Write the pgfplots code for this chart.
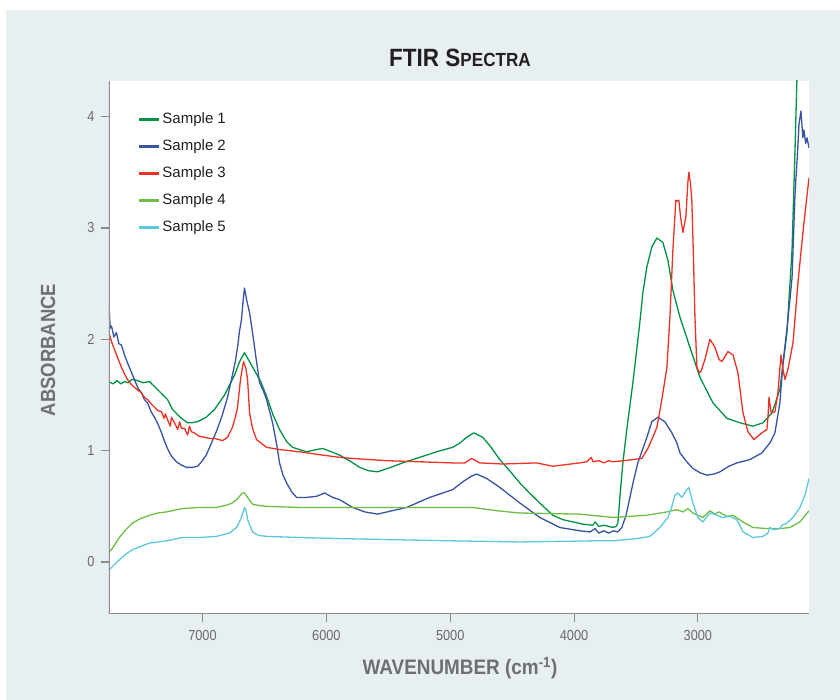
\documentclass[border=0pt]{standalone}
\usepackage{pgfplots}
\pgfplotsset{compat=1.18}
\usepackage{fontspec}
\setmainfont{Liberation Sans}
\newfontfamily\condfont[FakeStretch=0.88]{Liberation Sans}
\newfontfamily\labfont[FakeStretch=0.9]{Liberation Sans}
\definecolor{bg}{RGB}{232,239,242}
\definecolor{axgray}{RGB}{140,140,140}
\definecolor{tickgray}{RGB}{105,105,108}
\definecolor{labgray}{RGB}{110,111,113}
\definecolor{titlec}{RGB}{35,31,32}
\definecolor{sA}{RGB}{0,146,69}
\definecolor{sB}{RGB}{57,83,164}
\definecolor{sC}{RGB}{237,50,36}
\definecolor{sD}{RGB}{109,190,69}
\definecolor{sE}{RGB}{92,200,222}
\begin{document}
\begin{tikzpicture}[x=1pt,y=1pt]
\path[use as bounding box] (0,0) rectangle (840,700);
\fill[white] (0,0) rectangle (840,700);
\fill[bg] (6,0) rectangle (840,690);
\begin{axis}[
  at={(109pt,86pt)}, anchor=south west,
  scale only axis, width=700pt, height=533pt,
  x dir=reverse,
  xmin=2103, xmax=7755, ymin=-0.467, ymax=4.32,
  axis background/.style={fill=white},
  axis line style={draw=none},
  xtick={3000,4000,5000,6000,7000},
  ytick={0,1,2,3,4},
  xtick pos=bottom, ytick pos=left,
  tick align=outside,
  major tick length=8pt,
  tick style={draw=axgray, line width=1.1pt},
  /pgf/number format/assume math mode=true,
  /pgf/number format/1000 sep={},
  ticklabel style={font=\condfont\fontsize{14.5}{14.5}\selectfont, text=tickgray},
  xticklabel style={yshift=-5pt},
  yticklabel style={xshift=-3pt},
  legend cell align=left,
  legend style={draw=none, fill=none, at={(axis description cs:0.037,0.949)}, anchor=north west,
    font=\fontsize{15}{15}\selectfont, text=titlec, row sep=9pt,
    nodes={text height=11pt, text depth=3pt, inner sep=2pt},
    /tikz/every even column/.append style={column sep=3pt}},
  legend image code/.code={\draw[#1, line width=2.4pt] (0pt,0pt) -- (20pt,0pt);},
  every axis plot/.append style={line width=1.3pt, line join=round},
]
\addplot[sA] coordinates {
(7755,1.62)(7720,1.60)(7690,1.63)(7660,1.60)(7630,1.62)(7600,1.61)(7570,1.64)(7525,1.63)(7480,1.61)(7428,1.62)(7364,1.55)(7320,1.50)(7283,1.46)(7242,1.37)(7170,1.29)(7120,1.25)(7089,1.25)(7040,1.26)(6970,1.30)(6903,1.37)(6822,1.50)(6741,1.68)(6700,1.80)(6661,1.88)(6620,1.80)(6580,1.72)(6530,1.62)(6483,1.49)(6430,1.32)(6378,1.19)(6320,1.08)(6273,1.03)(6160,0.99)(6080,1.01)(6030,1.02)(5960,0.99)(5893,0.96)(5800,0.90)(5731,0.85)(5660,0.82)(5586,0.81)(5480,0.85)(5384,0.89)(5246,0.94)(5109,0.99)(4980,1.03)(4920,1.07)(4867,1.12)(4810,1.16)(4737,1.12)(4670,1.03)(4600,0.92)(4520,0.82)(4438,0.71)(4360,0.62)(4277,0.53)(4220,0.47)(4172,0.42)(4090,0.38)(4010,0.36)(3930,0.34)(3848,0.33)(3830,0.36)(3800,0.32)(3760,0.33)(3720,0.32)(3687,0.31)(3660,0.32)(3646,0.35)(3630,0.58)(3606,0.89)(3574,1.19)(3525,1.61)(3469,2.15)(3444,2.42)(3412,2.65)(3372,2.83)(3331,2.91)(3283,2.87)(3242,2.71)(3202,2.44)(3145,2.20)(3065,1.93)(2984,1.66)(2879,1.43)(2766,1.29)(2660,1.25)(2556,1.22)(2475,1.25)(2402,1.34)(2338,1.55)(2281,2.06)(2240,2.80)(2216,3.70)(2200,4.35)(2195,4.5)
};
\addlegendentry{Sample 1}
\addplot[sB] coordinates {
(7755,2.30)(7745,2.10)(7735,2.12)(7715,2.02)(7695,2.06)(7675,1.96)(7655,1.95)(7630,1.86)(7606,1.79)(7580,1.72)(7550,1.64)(7520,1.56)(7493,1.52)(7470,1.46)(7444,1.43)(7415,1.35)(7388,1.30)(7360,1.24)(7331,1.16)(7305,1.08)(7283,1.02)(7250,0.95)(7210,0.90)(7170,0.87)(7129,0.85)(7081,0.85)(7040,0.86)(7008,0.90)(6970,0.96)(6927,1.07)(6885,1.18)(6846,1.30)(6800,1.47)(6766,1.64)(6735,1.80)(6717,1.93)(6700,2.08)(6685,2.18)(6672,2.35)(6661,2.46)(6645,2.36)(6620,2.24)(6596,2.06)(6570,1.85)(6539,1.61)(6510,1.54)(6483,1.46)(6434,1.25)(6400,1.05)(6378,0.89)(6350,0.78)(6321,0.71)(6280,0.63)(6240,0.58)(6160,0.58)(6079,0.59)(6014,0.62)(5949,0.58)(5893,0.56)(5788,0.49)(5690,0.45)(5586,0.43)(5470,0.46)(5352,0.49)(5166,0.58)(4980,0.65)(4899,0.72)(4830,0.77)(4786,0.79)(4705,0.75)(4600,0.67)(4438,0.53)(4277,0.40)(4115,0.31)(3953,0.28)(3870,0.27)(3830,0.30)(3800,0.26)(3760,0.28)(3720,0.26)(3680,0.28)(3646,0.27)(3614,0.31)(3580,0.42)(3549,0.58)(3520,0.73)(3485,0.89)(3412,1.12)(3372,1.26)(3323,1.30)(3267,1.26)(3210,1.16)(3170,1.07)(3145,0.98)(3090,0.90)(3040,0.84)(2980,0.80)(2927,0.78)(2870,0.79)(2822,0.81)(2750,0.86)(2685,0.89)(2580,0.92)(2483,0.98)(2418,1.07)(2378,1.16)(2338,1.43)(2313,1.79)(2281,2.09)(2240,2.55)(2216,3.30)(2192,3.75)(2184,3.93)(2168,4.05)(2152,3.81)(2144,3.88)(2130,3.76)(2119,3.81)(2103,3.72)
};
\addlegendentry{Sample 2}
\addplot[sC] coordinates {
(7755,2.06)(7735,1.98)(7711,1.91)(7680,1.82)(7655,1.75)(7630,1.69)(7606,1.64)(7580,1.60)(7550,1.57)(7520,1.54)(7493,1.52)(7470,1.48)(7444,1.46)(7415,1.42)(7388,1.39)(7360,1.36)(7331,1.35)(7310,1.29)(7300,1.33)(7283,1.28)(7260,1.22)(7250,1.30)(7226,1.25)(7200,1.19)(7185,1.26)(7170,1.20)(7145,1.20)(7120,1.14)(7105,1.22)(7090,1.17)(7065,1.16)(7030,1.13)(6984,1.12)(6940,1.11)(6903,1.11)(6870,1.10)(6838,1.09)(6798,1.12)(6758,1.21)(6735,1.30)(6717,1.39)(6693,1.64)(6669,1.80)(6650,1.74)(6636,1.64)(6620,1.34)(6596,1.20)(6564,1.10)(6483,1.03)(6378,1.01)(6216,0.99)(6030,0.96)(5893,0.94)(5788,0.93)(5513,0.91)(5246,0.90)(4980,0.89)(4883,0.89)(4826,0.93)(4762,0.89)(4576,0.88)(4301,0.89)(4172,0.86)(3953,0.89)(3897,0.90)(3860,0.94)(3848,0.90)(3800,0.91)(3760,0.89)(3720,0.91)(3687,0.90)(3600,0.91)(3525,0.92)(3453,0.93)(3404,1.02)(3364,1.12)(3331,1.21)(3291,1.46)(3250,1.75)(3226,2.20)(3202,2.80)(3178,3.25)(3170,3.24)(3154,3.25)(3140,3.10)(3121,2.96)(3097,3.10)(3081,3.41)(3073,3.50)(3060,3.40)(3049,3.25)(3035,2.70)(3024,2.20)(3008,1.75)(2990,1.70)(2976,1.71)(2943,1.82)(2903,2.00)(2863,1.93)(2830,1.82)(2806,1.80)(2758,1.89)(2717,1.86)(2677,1.70)(2636,1.34)(2596,1.17)(2548,1.10)(2483,1.16)(2443,1.19)(2434,1.30)(2426,1.48)(2410,1.35)(2402,1.34)(2378,1.35)(2354,1.52)(2329,1.86)(2313,1.73)(2297,1.64)(2273,1.73)(2232,1.97)(2192,2.51)(2152,2.96)(2103,3.45)
};
\addlegendentry{Sample 3}
\addplot[sD] coordinates {
(7755,0.09)(7735,0.11)(7700,0.17)(7671,0.22)(7620,0.29)(7566,0.35)(7500,0.39)(7428,0.42)(7360,0.44)(7291,0.45)(7162,0.48)(7024,0.49)(6887,0.49)(6806,0.51)(6760,0.53)(6725,0.56)(6677,0.62)(6660,0.62)(6636,0.58)(6596,0.52)(6560,0.51)(6483,0.50)(6216,0.49)(5893,0.49)(5246,0.49)(4818,0.49)(4620,0.46)(4438,0.44)(3953,0.43)(3687,0.40)(3412,0.42)(3250,0.45)(3170,0.47)(3121,0.45)(3081,0.48)(3040,0.44)(2960,0.40)(2903,0.46)(2863,0.43)(2830,0.45)(2766,0.41)(2717,0.42)(2636,0.36)(2556,0.31)(2443,0.30)(2338,0.30)(2257,0.31)(2176,0.36)(2103,0.46)
};
\addlegendentry{Sample 4}
\addplot[sE] coordinates {
(7755,-0.07)(7735,-0.05)(7700,-0.01)(7671,0.02)(7620,0.07)(7566,0.11)(7500,0.14)(7428,0.17)(7360,0.18)(7291,0.19)(7162,0.22)(7024,0.22)(6887,0.23)(6782,0.26)(6725,0.31)(6685,0.40)(6661,0.49)(6648,0.46)(6636,0.38)(6596,0.27)(6550,0.24)(6483,0.23)(6216,0.22)(5893,0.21)(4980,0.19)(4438,0.18)(3848,0.19)(3687,0.19)(3493,0.21)(3388,0.23)(3307,0.31)(3242,0.40)(3210,0.50)(3186,0.60)(3162,0.62)(3129,0.58)(3089,0.65)(3073,0.67)(3040,0.53)(3000,0.40)(2960,0.36)(2903,0.44)(2846,0.42)(2806,0.40)(2741,0.41)(2685,0.38)(2636,0.27)(2556,0.22)(2475,0.23)(2435,0.26)(2418,0.31)(2394,0.29)(2338,0.30)(2321,0.33)(2281,0.35)(2232,0.40)(2176,0.49)(2135,0.60)(2103,0.75)
};
\addlegendentry{Sample 5}
\draw[axgray, line width=1.3pt] (axis description cs:0,1) -- (axis description cs:0,0) -- (axis description cs:1,0);
\end{axis}
\node[text=titlec, font=\labfont\bfseries\fontsize{25}{25}\selectfont] at (460,642) {FTIR S{\fontsize{19}{19}\selectfont PECTRA}};
\node[text=labgray, font=\labfont\bfseries\fontsize{20.5}{20.5}\selectfont, rotate=90] at (48,350) {ABSORBANCE};
\node[text=labgray, font=\labfont\bfseries\fontsize{21}{21}\selectfont] at (460,32) {WAVENUMBER (cm\textsuperscript{-1})};
\end{tikzpicture}
\end{document}
